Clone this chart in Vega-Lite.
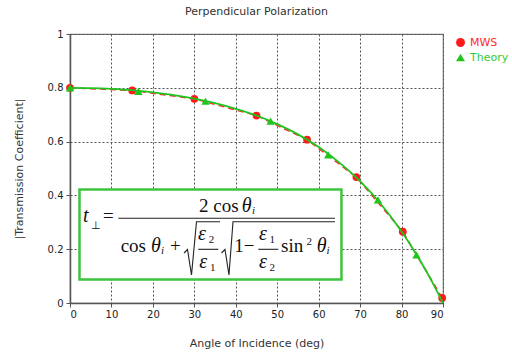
{
  "$schema": "https://vega.github.io/schema/vega-lite/v6.json",
  "width": 373,
  "height": 269,
  "autosize": {"type": "none"},
  "padding": {"left": 70, "top": 34, "right": 69, "bottom": 56},
  "background": "white",
  "title": {"text": "Perpendicular Polarization", "fontSize": 11, "font": "DejaVu Sans", "fontWeight": "normal", "color": "#333", "offset": 12},
  "config": {
    "view": {"stroke": "#777", "strokeWidth": 1.2},
    "axis": {"labelFont": "DejaVu Sans", "labelFontSize": 10, "labelColor": "#222", "titleFont": "DejaVu Sans", "titleFontSize": 11, "titleFontWeight": "normal", "titleColor": "#333", "gridColor": "#555", "gridDash": [2, 2], "gridOpacity": 1, "gridWidth": 1, "domainColor": "#555", "domainWidth": 1.5, "tickColor": "#555", "tickSize": 4}
  },
  "datasets": {
    "mws": [
      {"angle": 0, "t": 0.8, "series": "MWS"},
      {"angle": 15, "t": 0.79, "series": "MWS"},
      {"angle": 30, "t": 0.759, "series": "MWS"},
      {"angle": 45, "t": 0.697, "series": "MWS"},
      {"angle": 57.2, "t": 0.607, "series": "MWS"},
      {"angle": 69.1, "t": 0.468, "series": "MWS"},
      {"angle": 80.3, "t": 0.265, "series": "MWS"},
      {"angle": 89.8, "t": 0.019, "series": "MWS"}
    ],
    "theoryPts": [
      {"angle": 0, "t": 0.8, "series": "Theory"},
      {"angle": 16.5, "t": 0.787, "series": "Theory"},
      {"angle": 32.7, "t": 0.75, "series": "Theory"},
      {"angle": 48.4, "t": 0.676, "series": "Theory"},
      {"angle": 62.3, "t": 0.551, "series": "Theory"},
      {"angle": 74.3, "t": 0.383, "series": "Theory"},
      {"angle": 83.6, "t": 0.179, "series": "Theory"}
    ],
    "theoryLine": [
      {"angle": 0, "t": 0.8}, {"angle": 5, "t": 0.799}, {"angle": 10, "t": 0.796}, {"angle": 15, "t": 0.791},
      {"angle": 20, "t": 0.783}, {"angle": 25, "t": 0.773}, {"angle": 30, "t": 0.76}, {"angle": 35, "t": 0.743},
      {"angle": 40, "t": 0.722}, {"angle": 45, "t": 0.697}, {"angle": 50, "t": 0.665}, {"angle": 55, "t": 0.627},
      {"angle": 60, "t": 0.58}, {"angle": 65, "t": 0.522}, {"angle": 70, "t": 0.453}, {"angle": 75, "t": 0.368},
      {"angle": 80, "t": 0.266}, {"angle": 85, "t": 0.144}, {"angle": 87.5, "t": 0.075}, {"angle": 90, "t": 0.0}
    ],
    "box": [{"x1": 2.29, "x2": 65.5, "y1": 0.0874, "y2": 0.422}],
    "fracLines": [
      {"x1": 11.66, "x2": 63.94, "y": 0.315},
      {"x1": 30.96, "x2": 35.78, "y": 0.1996},
      {"x1": 45.43, "x2": 50.26, "y": 0.1996}
    ],
    "radicals": [
      {"r": "a", "i": 0, "x": 27.51, "y": 0.1859},
      {"r": "a", "i": 1, "x": 28.35, "y": 0.1989},
      {"r": "a", "i": 2, "x": 29.32, "y": 0.1041},
      {"r": "a", "i": 3, "x": 30.52, "y": 0.3022},
      {"r": "a", "i": 4, "x": 36.19, "y": 0.3022},
      {"r": "b", "i": 0, "x": 36.56, "y": 0.1859},
      {"r": "b", "i": 1, "x": 37.4, "y": 0.1989},
      {"r": "b", "i": 2, "x": 38.36, "y": 0.1041},
      {"r": "b", "i": 3, "x": 39.33, "y": 0.3022},
      {"r": "b", "i": 4, "x": 63.94, "y": 0.3022}
    ],
    "txtUp": [
      {"x": 7.96, "y": 0.3011, "s": "="},
      {"x": 31.13, "y": 0.339, "s": "2 cos"},
      {"x": 12.23, "y": 0.1907, "s": "cos"},
      {"x": 24.13, "y": 0.1907, "s": "+"},
      {"x": 39.64, "y": 0.1907, "s": "1−"},
      {"x": 50.91, "y": 0.1907, "s": "sin"}
    ],
    "txtIt": [
      {"x": 3.14, "y": 0.3011, "s": "t"},
      {"x": 41.43, "y": 0.339, "s": "θ"},
      {"x": 19.54, "y": 0.1907, "s": "θ"},
      {"x": 59.53, "y": 0.1907, "s": "θ"}
    ],
    "txtEps": [
      {"x": 30.9, "y": 0.2342, "s": "ε"},
      {"x": 31.2, "y": 0.129, "s": "ε"},
      {"x": 45.6, "y": 0.2342, "s": "ε"},
      {"x": 45.6, "y": 0.129, "s": "ε"}
    ],
    "txtSubIt": [
      {"x": 43.9, "y": 0.329, "s": "i"},
      {"x": 21.95, "y": 0.1803, "s": "i"},
      {"x": 61.9, "y": 0.1803, "s": "i"}
    ],
    "txtSubUp": [
      {"x": 5.07, "y": 0.2751, "s": "⊥"},
      {"x": 57.06, "y": 0.2156, "s": "2"},
      {"x": 33.45, "y": 0.223, "s": "2"},
      {"x": 33.8, "y": 0.119, "s": "1"},
      {"x": 48.15, "y": 0.223, "s": "1"},
      {"x": 48.15, "y": 0.119, "s": "2"}
    ]
  },
  "layer": [
    {
      "data": {"name": "mws"},
      "mark": {"type": "line", "color": "#ff2a2a", "strokeWidth": 1.5, "strokeDash": [6, 4]},
      "encoding": {
        "x": {"field": "angle", "type": "quantitative", "scale": {"domain": [0, 90], "nice": false},
          "axis": {"title": "Angle of Incidence (deg)", "values": [0, 10, 20, 30, 40, 50, 60, 70, 80, 90], "titlePadding": 18, "labelPadding": 2}},
        "y": {"field": "t", "type": "quantitative", "scale": {"domain": [0, 1], "nice": false},
          "axis": {"title": "|Transmission Coefficient|", "values": [0, 0.2, 0.4, 0.6, 0.8, 1], "format": "~g", "titlePadding": 23, "labelPadding": 3}}
      }
    },
    {
      "data": {"name": "mws"},
      "mark": {"type": "point", "filled": true, "opacity": 1, "size": 60},
      "encoding": {
        "x": {"field": "angle", "type": "quantitative"},
        "y": {"field": "t", "type": "quantitative"},
        "color": {"field": "series", "type": "nominal", "scale": {"domain": ["MWS", "Theory"], "range": ["#ff1a1a", "#1fc41f"]},
          "legend": {"title": null, "orient": "none", "legendX": 385, "legendY": 3, "padding": 0, "labelFont": "DejaVu Sans", "labelFontSize": 11, "symbolSize": 80, "rowPadding": 3, "labelOffset": 4,
            "labelColor": {"expr": "datum.value === 'MWS' ? '#ff2a2a' : '#33cc33'"}}},
        "shape": {"field": "series", "type": "nominal", "scale": {"domain": ["MWS", "Theory"], "range": ["circle", "triangle-up"]}}
      }
    },
    {
      "data": {"name": "theoryLine"},
      "mark": {"type": "line", "color": "#1fc41f", "strokeWidth": 1.8, "interpolate": "monotone"},
      "encoding": {
        "x": {"field": "angle", "type": "quantitative"},
        "y": {"field": "t", "type": "quantitative"}
      }
    },
    {
      "data": {"name": "theoryPts"},
      "mark": {"type": "point", "filled": true, "opacity": 1, "size": 70},
      "encoding": {
        "x": {"field": "angle", "type": "quantitative"},
        "y": {"field": "t", "type": "quantitative"},
        "color": {"field": "series", "type": "nominal"},
        "shape": {"field": "series", "type": "nominal"}
      }
    },
    {
      "data": {"name": "box"},
      "mark": {"type": "rect", "fill": "white", "stroke": "#3ec43e", "strokeWidth": 2.5},
      "encoding": {
        "x": {"field": "x1", "type": "quantitative"},
        "x2": {"field": "x2"},
        "y": {"field": "y1", "type": "quantitative"},
        "y2": {"field": "y2"}
      }
    },
    {
      "data": {"name": "fracLines"},
      "mark": {"type": "rule", "color": "#222", "strokeWidth": 1.1},
      "encoding": {
        "x": {"field": "x1", "type": "quantitative"},
        "x2": {"field": "x2"},
        "y": {"field": "y", "type": "quantitative"}
      }
    },
    {
      "data": {"name": "radicals"},
      "mark": {"type": "line", "color": "#222", "strokeWidth": 1.1},
      "encoding": {
        "x": {"field": "x", "type": "quantitative"},
        "y": {"field": "y", "type": "quantitative"},
        "detail": {"field": "r"},
        "order": {"field": "i"}
      }
    },
    {
      "data": {"name": "txtUp"},
      "mark": {"type": "text", "font": "Liberation Serif", "fontSize": 19, "align": "left", "baseline": "alphabetic", "color": "#111"},
      "encoding": {
        "x": {"field": "x", "type": "quantitative"},
        "y": {"field": "y", "type": "quantitative"},
        "text": {"field": "s"}
      }
    },
    {
      "data": {"name": "txtIt"},
      "mark": {"type": "text", "font": "Liberation Serif", "fontSize": 20, "fontStyle": "italic", "align": "left", "baseline": "alphabetic", "color": "#111"},
      "encoding": {
        "x": {"field": "x", "type": "quantitative"},
        "y": {"field": "y", "type": "quantitative"},
        "text": {"field": "s"}
      }
    },
    {
      "data": {"name": "txtEps"},
      "mark": {"type": "text", "font": "Liberation Serif", "fontSize": 20, "fontStyle": "italic", "align": "left", "baseline": "alphabetic", "color": "#111"},
      "encoding": {
        "x": {"field": "x", "type": "quantitative"},
        "y": {"field": "y", "type": "quantitative"},
        "text": {"field": "s"}
      }
    },
    {
      "data": {"name": "txtSubIt"},
      "mark": {"type": "text", "font": "Liberation Serif", "fontSize": 11, "fontStyle": "italic", "align": "left", "baseline": "alphabetic", "color": "#111"},
      "encoding": {
        "x": {"field": "x", "type": "quantitative"},
        "y": {"field": "y", "type": "quantitative"},
        "text": {"field": "s"}
      }
    },
    {
      "data": {"name": "txtSubUp"},
      "mark": {"type": "text", "font": "Liberation Serif", "fontSize": 11, "align": "left", "baseline": "alphabetic", "color": "#111"},
      "encoding": {
        "x": {"field": "x", "type": "quantitative"},
        "y": {"field": "y", "type": "quantitative"},
        "text": {"field": "s"}
      }
    }
  ]
}
